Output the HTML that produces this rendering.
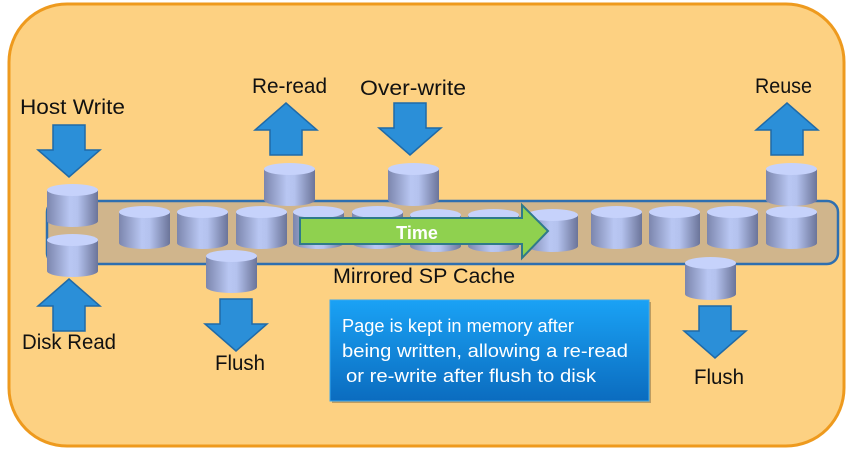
<!DOCTYPE html>
<html><head><meta charset="utf-8"><style>
html,body{margin:0;padding:0;background:#fff;width:853px;height:450px;overflow:hidden}
svg{display:block}
text{font-family:"Liberation Sans",sans-serif}
</style></head><body>
<svg width="853" height="450" viewBox="0 0 853 450" xmlns="http://www.w3.org/2000/svg">
<defs>
<linearGradient id="cyl" x1="0" x2="1" y1="0" y2="0">
<stop offset="0" stop-color="#7c86ad"/><stop offset="0.45" stop-color="#b9c7f3"/><stop offset="0.6" stop-color="#b4c2ee"/><stop offset="1" stop-color="#6b7499"/>
</linearGradient>
<linearGradient id="box" x1="0" x2="0" y1="0" y2="1">
<stop offset="0" stop-color="#1aa2f5"/><stop offset="1" stop-color="#0b6cbf"/>
</linearGradient>
<g id="c">
<path d="M0,6 L0,37 A25.5,6 0 0 0 51,37 L51,6 Z" fill="url(#cyl)"/>
<ellipse cx="25.5" cy="6" rx="25.5" ry="6" fill="#c6d2fb"/>
</g>
<path id="down" d="M15,0 L47,0 L47,25 L62,25 L31,52 L0,25 L15,25 Z" fill="#2b8fd8" stroke="#1f6aa8" stroke-width="1.5"/>
<path id="up" d="M15,52 L47,52 L47,27 L62,27 L31,0 L0,27 L15,27 Z" fill="#2b8fd8" stroke="#1f6aa8" stroke-width="1.5"/>
</defs>
<rect x="9" y="4" width="835" height="442" rx="58" fill="#fdd182" stroke="#ee9a1e" stroke-width="3"/>
<rect x="47" y="201" width="791" height="63" rx="11" fill="#d0b58c" stroke="#2e6fb0" stroke-width="2.5"/>

<use href="#c" x="47" y="184"/>
<use href="#c" x="47" y="234"/>
<use href="#c" x="119" y="206"/>
<use href="#c" x="177" y="206"/>
<use href="#c" x="236" y="206"/>
<use href="#c" x="293" y="206"/>
<use href="#c" x="352" y="206"/>
<use href="#c" x="410" y="209"/>
<use href="#c" x="468" y="209"/>
<use href="#c" x="527" y="209"/>
<use href="#c" x="591" y="206"/>
<use href="#c" x="649" y="206"/>
<use href="#c" x="707" y="206"/>
<use href="#c" x="766" y="206"/>
<use href="#c" x="264" y="163"/>
<use href="#c" x="388" y="163"/>
<use href="#c" x="766" y="163"/>
<use href="#c" x="206" y="250"/>
<use href="#c" x="685" y="257"/>

<path d="M300,218 L522,218 L522,205 L548,231 L522,258 L522,244 L300,244 Z" fill="#8fd14f" stroke="#2f7a8a" stroke-width="2"/>
<text x="417" y="239" font-size="18" font-weight="bold" fill="#fff" text-anchor="middle">Time</text>

<use href="#down" x="38" y="125"/>
<use href="#up" x="38" y="279"/>
<use href="#up" x="255" y="103"/>
<use href="#down" x="379" y="103"/>
<use href="#down" x="205" y="299"/>
<use href="#down" x="684" y="306"/>
<use href="#up" x="756" y="103"/>

<g font-size="21" fill="#111">
<text x="20" y="114" textLength="105" lengthAdjust="spacingAndGlyphs">Host Write</text>
<text x="252" y="93" textLength="75" lengthAdjust="spacingAndGlyphs">Re-read</text>
<text x="360" y="95" textLength="106" lengthAdjust="spacingAndGlyphs">Over-write</text>
<text x="755" y="93" textLength="57" lengthAdjust="spacingAndGlyphs">Reuse</text>
<text x="22" y="349" textLength="94" lengthAdjust="spacingAndGlyphs">Disk Read</text>
<text x="215" y="370" textLength="50" lengthAdjust="spacingAndGlyphs">Flush</text>
<text x="694" y="384" textLength="50" lengthAdjust="spacingAndGlyphs">Flush</text>
<text x="333" y="283" textLength="182" lengthAdjust="spacingAndGlyphs">Mirrored SP Cache</text>
</g>

<rect x="332" y="302" width="319" height="101" fill="#000" opacity="0.25"/>
<rect x="330" y="300" width="319" height="101" fill="url(#box)" stroke="#3aa8ee" stroke-width="1"/>
<g font-size="18" fill="#fff">
<text x="342" y="332" textLength="232" lengthAdjust="spacingAndGlyphs">Page is kept in memory after</text>
<text x="342" y="357" textLength="286" lengthAdjust="spacingAndGlyphs">being written, allowing a re-read</text>
<text x="346" y="382" textLength="250" lengthAdjust="spacingAndGlyphs">or re-write after flush to disk</text>
</g>
</svg>
</body></html>
